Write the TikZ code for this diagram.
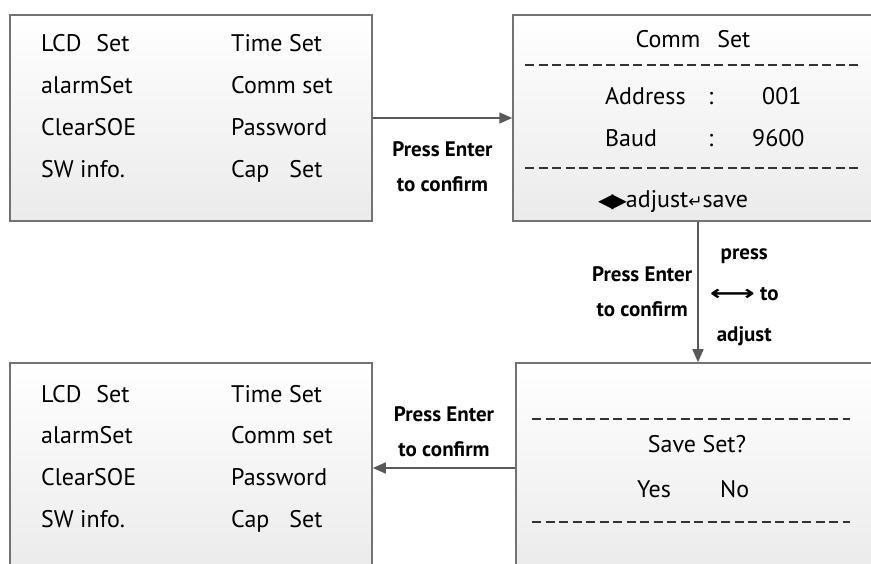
\documentclass[tikz,border=0pt]{standalone}
\usepackage{fontspec}
\setmainfont{PT Sans}
\newfontfamily\symfont{DejaVu Sans}
\usetikzlibrary{arrows.meta,positioning}

\begin{document}
\begin{tikzpicture}[x=1pt,y=-1pt,
  screen/.style={draw=black!55,line width=1.5pt,top color=white,bottom color=black!8,minimum width=#1,inner sep=0pt},
  item/.style={font=\fontsize{24}{28}\selectfont,anchor=base west,inner sep=0pt},
  ctext/.style={font=\fontsize{24}{28}\selectfont,anchor=base,inner sep=0pt},
  hint/.style={font=\bfseries\fontsize{21}{35}\selectfont,align=center,inner sep=0pt},
  flow/.style={draw=black!65,line width=1.5pt,-{Triangle[length=13pt,width=11pt]}},
  dashrow/.style={black!80,line width=1.8pt,dash pattern=on 9pt off 4.5pt}]

\useasboundingbox (0,0) rectangle (871,564);

% screens
\node[screen=362pt,minimum height=206pt] (menuA) at (191,118) {};
\node[screen=370pt,minimum height=206pt] (comm) at (698,118) {};
\node[screen=364pt,minimum height=210pt] (save) at (698,468) {};
\node[screen=362pt,minimum height=210pt] (menuB) at (191,468) {};

% menu entries, top and bottom
\foreach \b/\dy in {menuA/0,menuB/350}
  \foreach \l/\r [count=\n] in {{LCD\hspace{15pt}Set}/Time Set,alarmSet/Comm set,ClearSOE/Password,SW info./{Cap\hspace{20pt}Set}} {
    \node[item] (\b-l\n) at (41,{52+\dy+41.7*(\n-1)}) {\l};
    \node[item] (\b-r\n) at (231,{52+\dy+41.7*(\n-1)}) {\r};
  }

% comm set screen
\node[ctext] (commT) at (693,48) {Comm\hspace{17pt}Set};
\draw[dashrow] (525,65) -- (860,65);
\node[item] (addr) at (605,105) {Address};
\node[item] (addrC) at (708,105) {:};
\node[item] (addrV) at (762,105) {001};
\node[item] (baud) at (605,147) {Baud};
\node[item] (baudC) at (708,147) {:};
\node[item] (baudV) at (752,147) {9600};
\draw[dashrow] (525,168) -- (860,168);
\node[item] (keys) at (598,208) {{\symfont\fontsize{20}{22}\selectfont ◀\kern-2pt▶}\kern-1pt adjust{\symfont\fontsize{17}{20}\selectfont ↵}save};

% save screen
\draw[dashrow] (532,419) -- (850,419);
\node[ctext] (saveQ) at (697,452) {Save Set?};
\node[item] (yes) at (637,497) {Yes};
\node[item] (no) at (720,497) {No};
\draw[dashrow] (532,522) -- (850,522);

% flow
\draw[flow] (menuA) -- node[hint,below=23pt] {Press Enter\\to confirm} (comm);
\draw[flow] (comm) -- node[hint,left=5pt] {Press Enter\\to confirm}
  node[hint,right=11pt,yshift=-5pt,font=\bfseries\fontsize{21}{41}\selectfont] {press\\{\symfont\scalebox{1.5}[1]{⟷}} to\\adjust} (save);
\draw[flow] (save) -- node[hint,above=10pt] {Press Enter\\to confirm} (menuB);
\end{tikzpicture}
\end{document}
